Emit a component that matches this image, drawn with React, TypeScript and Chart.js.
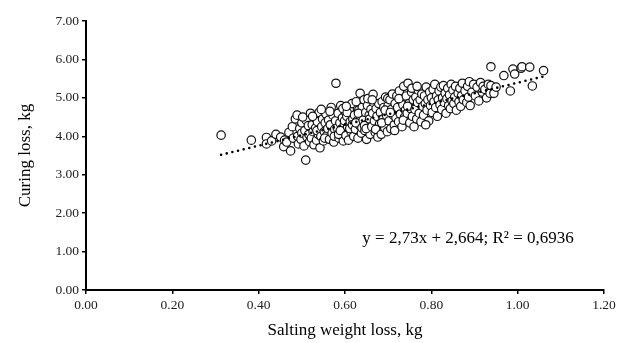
import React, { useEffect, useRef } from "react";
import { Chart, registerables } from "chart.js";

Chart.register(...registerables);

const salting: number[] = [
  0.313, 0.383, 0.418, 0.418, 0.43, 0.44,
  0.451, 0.458, 0.474, 0.46, 0.47, 0.465, 0.478, 0.48,
  0.485, 0.49, 0.492, 0.495, 0.498, 0.5, 0.5, 0.489,
  0.509, 0.505, 0.507, 0.51, 0.512, 0.515, 0.518, 0.52, 0.502, 0.516,
  0.522, 0.524, 0.526, 0.528, 0.53, 0.532, 0.534, 0.536, 0.538, 0.54, 0.525, 0.535,
  0.542, 0.544, 0.546, 0.548, 0.55, 0.552, 0.554, 0.556, 0.558, 0.56, 0.545, 0.553,
  0.562, 0.564, 0.566, 0.568, 0.57, 0.572, 0.574, 0.576, 0.578, 0.579, 0.565, 0.575,
  0.582, 0.584, 0.586, 0.588, 0.59, 0.592, 0.594, 0.596, 0.598, 0.6, 0.585, 0.595, 0.589, 0.599,
  0.602, 0.604, 0.606, 0.608, 0.61, 0.612, 0.614, 0.616, 0.618, 0.62, 0.605, 0.611, 0.617, 0.603,
  0.622, 0.624, 0.626, 0.628, 0.63, 0.632, 0.634, 0.635, 0.636, 0.638, 0.64, 0.625, 0.631, 0.639,
  0.642, 0.644, 0.646, 0.648, 0.65, 0.652, 0.654, 0.656, 0.658, 0.66, 0.645, 0.653, 0.657, 0.649,
  0.662, 0.664, 0.665, 0.666, 0.668, 0.67, 0.672, 0.674, 0.676, 0.678, 0.68, 0.663, 0.671,
  0.682, 0.684, 0.686, 0.688, 0.69, 0.692, 0.694, 0.696, 0.698, 0.7, 0.685, 0.693, 0.699,
  0.702, 0.704, 0.706, 0.708, 0.71, 0.712, 0.714, 0.716, 0.718, 0.72, 0.705, 0.715,
  0.722, 0.724, 0.726, 0.728, 0.73, 0.732, 0.734, 0.736, 0.738, 0.74, 0.725, 0.735,
  0.742, 0.744, 0.746, 0.748, 0.75, 0.752, 0.754, 0.756, 0.758, 0.76, 0.745, 0.755,
  0.762, 0.764, 0.766, 0.768, 0.77, 0.772, 0.774, 0.776, 0.778, 0.78, 0.767,
  0.782, 0.784, 0.786, 0.788, 0.79, 0.792, 0.794, 0.796, 0.798, 0.8, 0.787,
  0.802, 0.804, 0.806, 0.808, 0.81, 0.812, 0.814, 0.816, 0.818, 0.82,
  0.822, 0.824, 0.826, 0.828, 0.83, 0.832, 0.834, 0.836, 0.838, 0.84,
  0.842, 0.844, 0.846, 0.848, 0.85, 0.852, 0.854, 0.856, 0.858,
  0.862, 0.864, 0.866, 0.868, 0.87, 0.872, 0.874, 0.878,
  0.882, 0.884, 0.886, 0.888, 0.89, 0.894, 0.898,
  0.902, 0.906, 0.91, 0.914, 0.918, 0.92,
  0.924, 0.928, 0.932, 0.936, 0.938,
  0.945, 0.938, 0.95, 0.968, 0.983, 0.989, 0.993, 1.008, 1.01, 1.028, 1.034, 1.06,
];

const curing: number[] = [
  4.03, 3.9, 3.97, 3.8, 3.88, 4.05,
  3.98, 3.73, 3.62, 3.9, 4.1, 3.85, 4.25, 3.95,
  4.45, 4.0, 3.8, 4.2, 3.92, 4.35, 4.08, 4.55,
  3.38, 3.75, 4.15, 4.42, 3.98, 4.28, 3.86, 4.6, 4.5, 4.05,
  3.95, 4.3, 4.12, 3.78, 4.48, 4.22, 3.9, 4.38, 4.05, 4.62, 4.52, 4.15,
  3.7, 4.0, 4.25, 4.45, 3.88, 4.12, 4.35, 4.58, 4.02, 4.2, 4.7, 3.95,
  4.42, 3.92, 4.3, 4.75, 4.08, 4.55, 3.85, 4.18, 4.4, 5.38, 4.65, 4.0,
  4.22, 4.6, 3.95, 4.35, 4.8, 4.1, 4.48, 3.88, 4.28, 4.65, 4.05, 4.72, 4.15, 4.4,
  4.02, 4.52, 4.25, 3.9, 4.7, 4.38, 4.12, 4.85, 4.45, 4.0, 4.62, 4.2, 4.3, 4.78,
  4.55, 4.18, 4.9, 4.4, 3.95, 4.68, 4.28, 5.12, 4.5, 4.08, 4.75, 4.35, 4.6, 4.22,
  4.42, 4.95, 4.15, 4.62, 3.92, 4.8, 4.35, 4.55, 4.05, 4.7, 4.28, 4.98, 4.45, 4.2,
  4.25, 4.6, 5.09, 4.88, 4.4, 4.1, 4.72, 4.52, 3.98, 4.85, 4.32, 4.95, 4.18,
  4.62, 4.05, 4.9, 4.45, 4.75, 4.22, 5.02, 4.55, 4.12, 4.8, 4.35, 4.68, 4.98,
  4.4, 4.95, 4.2, 4.7, 5.1, 4.55, 4.3, 4.85, 4.48, 5.05, 4.62, 4.15,
  4.75, 4.38, 5.18, 4.58, 4.92, 4.25, 4.82, 5.3, 4.5, 4.68, 4.98, 4.42,
  5.05, 4.6, 5.38, 4.85, 4.35, 4.72, 5.15, 4.52, 4.95, 4.25, 4.78, 5.25,
  4.7, 5.02, 4.45, 4.88, 5.2, 4.6, 4.95, 4.38, 5.1, 4.78, 5.3,
  4.55, 5.05, 4.85, 5.28, 4.68, 4.95, 4.4, 5.15, 4.8, 5.0, 4.3,
  4.62, 5.22, 4.9, 5.35, 4.75, 5.05, 4.52, 4.95, 5.18, 4.82,
  5.28, 4.7, 5.0, 5.32, 4.88, 5.12, 4.6, 4.98, 5.25, 4.8,
  5.08, 4.72, 5.35, 4.92, 5.2, 4.85, 5.02, 5.3, 4.68,
  5.12, 4.9, 5.25, 4.78, 5.05, 5.38, 4.95, 5.18,
  4.88, 5.3, 5.02, 5.42, 4.8, 5.15, 5.35,
  5.05, 5.28, 4.92, 5.4, 5.15, 5.3,
  5.22, 5.0, 5.35, 5.12, 5.81,
  5.12, 5.32, 5.28, 5.58, 5.18, 5.75, 5.62, 5.77, 5.81, 5.8, 5.31, 5.71,
];

const xTicks: number[] = [0, 0.2, 0.4, 0.6, 0.8, 1.0, 1.2];
const yTicks: number[] = [0, 1, 2, 3, 4, 5, 6, 7];

const slope = 2.73;
const intercept = 2.664;
const equationText = "y = 2,73x + 2,664; R² = 0,6936";
const equationAt = { x: 0.885, y: 1.35 };
const xTitle = "Salting weight loss, kg";
const yTitle = "Curing loss, kg";

const SERIF = "'Liberation Serif', 'Times New Roman', serif";

export default function App() {
  const ref = useRef<HTMLCanvasElement | null>(null);

  useEffect(() => {
    if (!ref.current) return;
    const pts = salting.map((x, i) => ({ x, y: curing[i] }));
    const xmin = Math.min(...salting);
    const xmax = Math.max(...salting);
    const trend = [
      { x: xmin, y: intercept + slope * xmin },
      { x: xmax, y: intercept + slope * xmax },
    ];

    const eqPlugin = {
      id: "eq",
      afterDraw(chart: any) {
        const { ctx, scales } = chart;
        const px = scales.x.getPixelForValue(equationAt.x);
        const py = scales.y.getPixelForValue(equationAt.y);
        ctx.save();
        ctx.font = `17px ${SERIF}`;
        ctx.fillStyle = "#000";
        ctx.textAlign = "center";
        ctx.textBaseline = "middle";
        ctx.fillText(equationText, px, py);
        ctx.restore();
      },
    };

    const chart = new Chart(ref.current, {
      type: "scatter",
      data: {
        datasets: [
          {
            type: "line",
            label: "trend",
            data: trend,
            borderColor: "#000",
            borderWidth: 2.6,
            borderDash: [0, 5.8],
            borderCapStyle: "round",
            pointRadius: 0,
            fill: false,
            order: 0,
          } as any,
          {
            label: "data",
            data: pts,
            pointRadius: 4.2,
            pointBackgroundColor: "#fff",
            pointBorderColor: "#111",
            pointBorderWidth: 1.2,
            order: 1,
          },
        ],
      },
      options: {
        animation: false,
        responsive: false,
        layout: { padding: { top: 21, right: 15, left: 0, bottom: 0 } },
        plugins: {
          legend: { display: false },
          tooltip: { enabled: false },
        },
        scales: {
          x: {
            type: "linear",
            min: 0,
            max: 1.2,
            afterBuildTicks: (s: any) => {
              s.ticks = xTicks.map((v) => ({ value: v }));
            },
            afterFit: (s: any) => {
              s.height = 53;
            },
            ticks: {
              font: { family: SERIF, size: 13.5 },
              color: "#222",
              padding: 3,
              maxRotation: 0,
              callback: (v: any) => Number(v).toFixed(2),
            },
            grid: {
              drawOnChartArea: false,
              drawTicks: true,
              tickLength: 4,
              color: "#000",
              lineWidth: 1.5,
            },
            border: { color: "#000", width: 2 },
            title: {
              display: true,
              text: xTitle,
              font: { family: SERIF, size: 17 },
              color: "#000",
              padding: { top: 0, bottom: 2 },
            },
          },
          y: {
            type: "linear",
            min: 0,
            max: 7,
            afterBuildTicks: (s: any) => {
              s.ticks = yTicks.map((v) => ({ value: v }));
            },
            afterFit: (s: any) => {
              s.width = 86;
            },
            ticks: {
              font: { family: SERIF, size: 13.5 },
              color: "#222",
              padding: 3,
              callback: (v: any) => Number(v).toFixed(2),
            },
            grid: {
              drawOnChartArea: false,
              drawTicks: true,
              tickLength: 4,
              color: "#000",
              lineWidth: 1.5,
            },
            border: { color: "#000", width: 2 },
            title: {
              display: true,
              text: yTitle,
              font: { family: SERIF, size: 17 },
              color: "#000",
              padding: { top: 15, bottom: 0 },
            },
          },
        },
      },
      plugins: [eqPlugin],
    });
    return () => chart.destroy();
  }, []);

  return (
    <div style={{ position: "fixed", left: 0, top: 0, width: 619, height: 343, background: "#fff" }}>
      <canvas ref={ref} width={619} height={343} style={{ width: 619, height: 343 }} />
    </div>
  );
}
